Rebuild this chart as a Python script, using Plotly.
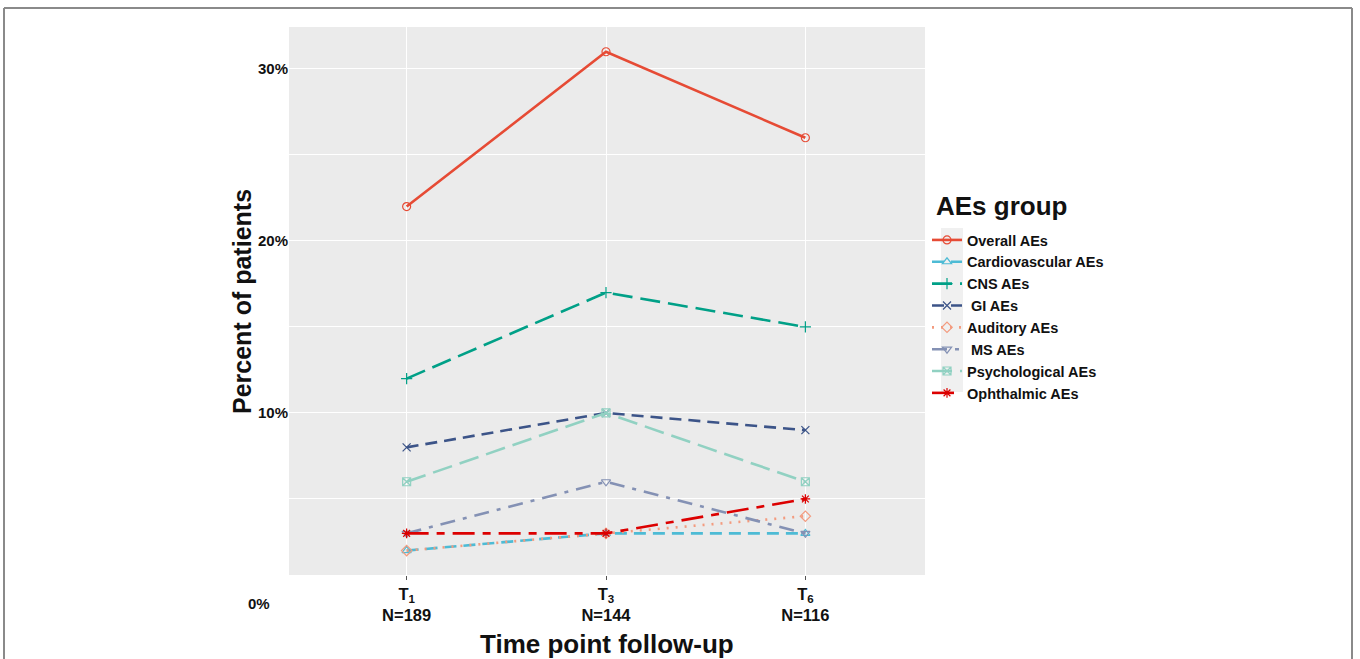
import plotly.graph_objects as go

# ---- data ----
time_points = ["T1", "T3", "T6"]
tick_labels = ["T<sub>1</sub><br>N=189", "T<sub>3</sub><br>N=144", "T<sub>6</sub><br>N=116"]
x_pos = [1, 2, 3]

groups = ["Overall AEs", "Cardiovascular AEs", "CNS AEs", "GI AEs",
          "Auditory AEs", "MS AEs", "Psychological AEs", "Ophthalmic AEs"]
overall = [22, 31, 26]
cardiovascular = [2, 3, 3]
cns = [12, 17, 15]
gi = [8, 10, 9]
auditory = [2, 3, 4]
ms = [3, 6, 3]
psychological = [6, 10, 6]
ophthalmic = [3, 3, 5]
values = [overall, cardiovascular, cns, gi, auditory, ms, psychological, ophthalmic]

y_tick_vals = [10, 20, 30]
y_tick_text = ["10%", "20%", "30%"]

colors = ["#E64B35", "#4DBBD5", "#00A087", "#3C5488",
          "#F39B7F", "#8491B4", "#91D1C2", "#DC0000"]
dashes = ["solid", "12px,7px", "20px,8px", "12px,7px",
          "2px,7px", "15px,8px,4px,8px", "20px,8px", "22px,8px,8px,8px"]
symbols = ["circle-open", "triangle-up-open", "cross-thin-open", "x-thin-open",
           "diamond-open", "triangle-down-open", "square-x-open", "asterisk-open"]
legend_labels = ["Overall AEs", "Cardiovascular AEs", "CNS AEs", " GI AEs",
                 "Auditory AEs", " MS AEs", "Psychological AEs", "Ophthalmic AEs"]

FONT = "Liberation Sans, Arial, sans-serif"
W, H = 1360, 659
L, R, T, B = 289, 925, 27, 575  # panel pixel box


def px_x(p):
    return (p - L) / (R - L)


def px_y(p):
    return (B - p) / (B - T)


fig = go.Figure()
for lab, vals, c, d, s in zip(legend_labels, values, colors, dashes, symbols):
    fig.add_trace(go.Scatter(
        x=x_pos, y=vals, name=lab, mode="lines+markers",
        line=dict(color=c, width=2.6, dash=d),
        marker=dict(symbol=s, size=8, color=c, line=dict(color=c, width=1.2)),
    ))

fig.update_layout(
    width=W, height=H,
    margin=dict(l=L, r=W - R, t=T, b=H - B, pad=0),
    paper_bgcolor="white",
    plot_bgcolor="#EBEBEB",
    font=dict(family=FONT, color="#1a1a1a"),
    showlegend=True,
    legend=dict(
        x=px_x(927), y=px_y(224), xanchor="left", yanchor="top",
        bgcolor="rgba(0,0,0,0)",
        font=dict(family=FONT, size=14.5, color="#111", weight="bold"),
        tracegroupgap=0, itemwidth=30,
    ),
    xaxis=dict(
        range=[0.41, 3.6], tickvals=x_pos, ticktext=tick_labels,
        showgrid=True, gridcolor="white", gridwidth=1.3, zeroline=False,
        ticks="outside", ticklen=4, tickcolor="#555",
        tickfont=dict(family=FONT, size=16.5, color="#111", weight="bold"),
        showline=False,
    ),
    yaxis=dict(
        range=[0.58, 32.44], tickvals=y_tick_vals, ticktext=y_tick_text,
        showgrid=True, gridcolor="white", gridwidth=1.3, zeroline=False,
        minor=dict(tickvals=[5, 15, 25], showgrid=True, gridcolor="white", gridwidth=0.8),
        tickfont=dict(family=FONT, size=15, color="#111", weight="bold"),
        ticks="", showline=False,
    ),
)

# legend key background
fig.add_shape(type="rect", xref="paper", yref="paper",
              x0=px_x(941), x1=px_x(963), y0=px_y(392), y1=px_y(228),
              fillcolor="#F0F0F0", line=dict(width=0), layer="below")

# outer frame
for (xa, ya, xb, yb) in [(4, 8, 1352, 8), (4, 8, 4, 700), (1352, 8, 1352, 700)]:
    fig.add_shape(type="line", xref="paper", yref="paper",
                  x0=px_x(xa), y0=px_y(ya), x1=px_x(xb), y1=px_y(yb),
                  line=dict(color="#8a8a8a", width=2))

# legend title, axis titles and the stray 0% label
fig.add_annotation(text="AEs group", xref="paper", yref="paper",
                   x=px_x(934), y=px_y(206), showarrow=False,
                   xanchor="left", yanchor="middle",
                   font=dict(family=FONT, size=26, color="#111", weight="bold"))
fig.add_annotation(text="Percent of patients", xref="paper", yref="paper",
                   x=px_x(242), y=px_y(302), textangle=-90, showarrow=False,
                   xanchor="center", yanchor="middle",
                   font=dict(family=FONT, size=25, color="#111", weight="bold"))
fig.add_annotation(text="Time point follow-up", xref="paper", yref="paper",
                   x=px_x(607), y=px_y(644), showarrow=False,
                   xanchor="center", yanchor="middle",
                   font=dict(family=FONT, size=26, color="#111", weight="bold"))
fig.add_annotation(text="0%", xref="paper", yref="paper",
                   x=px_x(259), y=px_y(603), showarrow=False,
                   xanchor="center", yanchor="middle",
                   font=dict(family=FONT, size=15, color="#111", weight="bold"))

fig.write_html("out.html", config={"displayModeBar": False},
               post_script="document.body.style.margin='0px';document.body.style.overflow='hidden';")
